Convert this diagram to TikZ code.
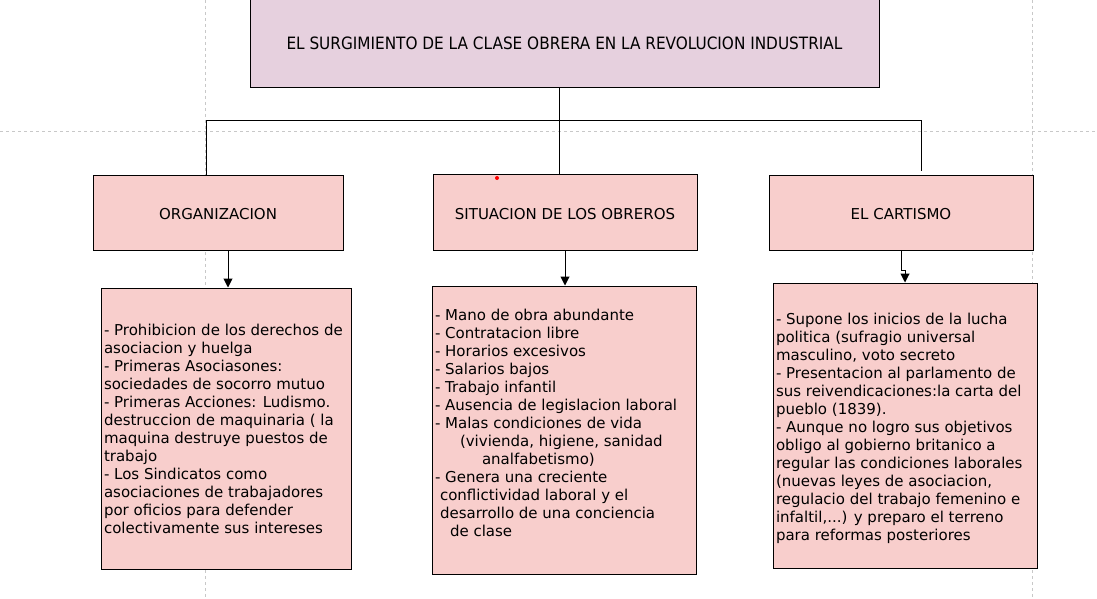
\documentclass[tikz,border=0pt]{standalone}
\usepackage{fontspec}
\setmainfont{DejaVu Sans}
\newfontfamily\condfont{DejaVu Sans Condensed}
\usetikzlibrary{arrows.meta}
\definecolor{titlefill}{HTML}{E6D0DE}
\definecolor{boxfill}{HTML}{F8CECC}
\definecolor{guide}{HTML}{C8C8C8}
\newcommand\myshift[2]{\raisebox{#1}[\height][\depth]{#2}}
\tikzset{
  box/.style={draw=black, line width=1pt, fill=boxfill, inner sep=0pt, font=\fontsize{15}{18}\selectfont},
  titlebox/.style={draw=black, line width=1pt, fill=titlefill, inner sep=0pt, font=\condfont\fontsize{17}{20}\selectfont},
  detail/.style={box, align=left},
  conn/.style={draw=black, line width=1pt},
  arr/.style={conn, -{Triangle[length=9pt,width=9pt]}},
  guideline/.style={draw=guide, line width=0.7pt, dash pattern=on 3pt off 3pt}
}
\begin{document}
\begin{tikzpicture}[x=1pt,y=-1pt]
\useasboundingbox (0,0) rectangle (1097,599);
% page guides
\draw[guideline] (205,0) -- (205,599);
\draw[guideline] (1032,0) -- (1032,599);
\draw[guideline] (0,131) -- (1097,131);

% title
\node[titlebox, minimum width=629pt, minimum height=88pt] (title) at (564.5,43.5) {EL SURGIMIENTO DE LA CLASE OBRERA EN LA REVOLUCION INDUSTRIAL};

% level 2
\node[box, minimum width=250pt, minimum height=75pt] (org) at (218,212.5) {\myshift{-2pt}{ORGANIZACION}};
\node[box, minimum width=264pt, minimum height=76pt] (sit) at (565,212) {\myshift{-2pt}{SITUACION DE LOS OBREROS}};
\node[box, minimum width=264pt, minimum height=75pt] (car) at (901,212.5) {\myshift{-2pt}{EL CARTISMO}};

% details
\node[detail, minimum width=250pt, minimum height=281pt] (orgd) at (226,428.5) {\parbox{244pt}{%
- Prohibicion de los derechos de\\
asociacion y huelga\\
- Primeras Asociasones:\\
sociedades de socorro mutuo\\
- Primeras Acciones: Ludismo.\\
destruccion de maquinaria ( la\\
maquina destruye puestos de\\
trabajo\\
- Los Sindicatos como\\
asociaciones de trabajadores\\
por oficios para defender\\
colectivamente sus intereses}};

\node[detail, minimum width=264pt, minimum height=288pt] (sitd) at (564,430) {\myshift{7pt}{\parbox{258pt}{%
- Mano de obra abundante\\
- Contratacion libre\\
- Horarios excesivos\\
- Salarios bajos\\
- Trabajo infantil\\
- Ausencia de legislacion laboral\\
- Malas condiciones de vida\\
\hspace*{25pt}(vivienda, higiene, sanidad\\
\hspace*{47pt}analfabetismo)\\
- Genera una creciente\\
\hspace*{5pt}conflictividad laboral y el\\
\hspace*{5pt}desarrollo de una conciencia\\
\hspace*{15pt}de clase}}};

\node[detail, minimum width=264pt, minimum height=285pt] (card) at (905,425.5) {\myshift{-3pt}{\parbox{258pt}{%
- Supone los inicios de la lucha\\
politica (sufragio universal\\
masculino, voto secreto\\
- Presentacion al parlamento de\\
sus reivendicaciones:la carta del\\
pueblo (1839).\\
- Aunque no logro sus objetivos\\
obligo al gobierno britanico a\\
regular las condiciones laborales\\
(nuevas leyes de asociacion,\\
regulacio del trabajo femenino e\\
infaltil,...) y preparo el terreno\\
para reformas posteriores}}};

% connectors from title
\coordinate (junc) at (559,121);
\coordinate (jl) at (206,121);
\coordinate (jr) at (921,121);
\coordinate (carend) at (921,171);
\draw[conn] (title.south -| junc) -- (junc);
\draw[conn] (org.north -| jl) -- (jl) -- (jr) -- (carend);
\draw[conn] (junc) -- (sit.north -| junc);

% arrows to details
\draw[arr] (org.south -| 228,0) -- (orgd.north -| 228,0);
\draw[arr] (sit.south -| 565,0) -- (sitd.north -| 565,0);
\draw[arr] (car.south -| 901,0) -- (901,270) -- (905,270) -- (card.north -| 905,0);

% small red dot
\fill[red] (497,178) circle (2pt);
\end{tikzpicture}
\end{document}
